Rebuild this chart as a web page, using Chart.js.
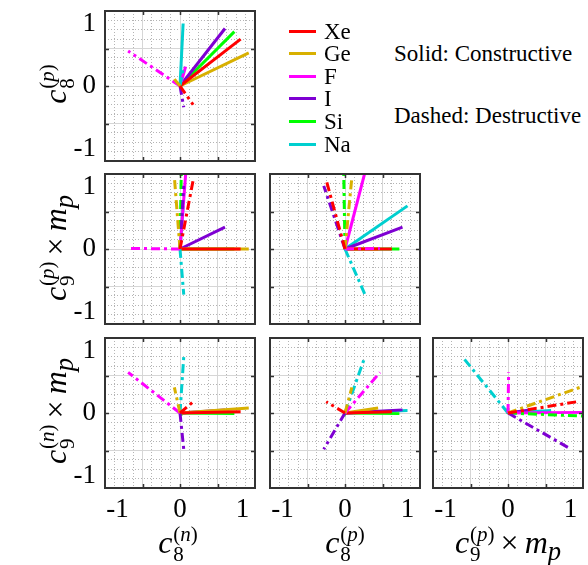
<!DOCTYPE html>
<html>
<head>
<meta charset="utf-8">
<script src="https://cdn.jsdelivr.net/npm/chart.js@4.4.1/dist/chart.umd.min.js"></script>
<style>
  body { margin: 0; background: #fff; }
  #fig { position: relative; width: 588px; height: 565px; overflow: hidden; font-family: 'Liberation Serif', serif; color: #000; }
  #fig canvas { position: absolute; }
  .math { position: absolute; font-size: 32px; line-height: 1; white-space: nowrap; transform: translate(-50%, -50%); }
  .math.rot { transform: translate(-50%, -50%) rotate(-90deg); }
  .ss { display: inline-flex; flex-direction: column; font-size: 21px; line-height: 0.95; vertical-align: 12px; margin-left: 1px; }
  .times { margin: 0 6px; font-style: normal; }
  .key { position: absolute; font-size: 23px; line-height: 1; white-space: nowrap; }
  .swatch { position: absolute; width: 27px; height: 3px; }
</style>
</head>
<body>
<div id="fig"></div>
<script>
// element order also sets drawing order: first listed is drawn on top
const elements = ['Xe', 'Ge', 'F', 'I', 'Si', 'Na'];
const colours = ['#ff0000', '#d8b000', '#ff00ff', '#7e00d2', '#00ff00', '#00cfcf'];

// constructive (solid) directions
const c8nSolid = [0.97, 1.10, 0.09, 0.72, 0.87, 0.05];
const c8pSolid = [0.75, 0.53, 0.31, 0.92, 0.87, 1.00];
const c9pSolid = [0.00, 0.00, 1.19, 0.35, 0.00, 0.69];
const c9nSolid = [0.02, 0.08, 0.01, 0.05, -0.01, 0.04];

// destructive (dashed) directions
const c8nDashed = [0.21, -0.09, -0.83, 0.06, 0.02, 0.06];
const c8pDashed = [-0.30, 0.11, 0.56, -0.34, -0.02, 0.32];
const c9pDashed = [1.10, 1.15, 0.01, 1.01, 1.20, -0.73];
const c9nDashed = [0.18, 0.41, 0.65, -0.58, -0.05, 0.90];

const tickLabels = [-1, 0, 1];
const majorTicks = [-0.6, 0, 0.6];

const solid = { c8n: c8nSolid, c8p: c8pSolid, c9p: c9pSolid, c9n: c9nSolid };
const dashed = { c8n: c8nDashed, c8p: c8pDashed, c9p: c9pDashed, c9n: c9nDashed };

const LIM = 1.2;
const SIZE = 150;
// top/right margins must exceed the padding Chart.js asks for round the tick labels
const M = { left: 50, right: 16, top: 30, bottom: 44 };
const FONT = 'Liberation Serif';

// minor grid every 0.15, skipping where the major lines sit
const minorTicks = [];
for (let k = -7; k <= 7; k++) {
    if (k % 4 !== 0) minorTicks.push(+(k * 0.15).toFixed(2));
}

const panels = [
    { x: 'c8n', y: 'c8p', left: 105, top: 11, showX: false, showY: true },
    { x: 'c8n', y: 'c9p', left: 105, top: 174, showX: false, showY: true },
    { x: 'c8p', y: 'c9p', left: 270, top: 174, showX: false, showY: false },
    { x: 'c8n', y: 'c9n', left: 105, top: 338, showX: true, showY: true },
    { x: 'c8p', y: 'c9n', left: 270, top: 338, showX: true, showY: false },
    { x: 'c9p', y: 'c9n', left: 433, top: 338, showX: true, showY: false }
];

const setTicks = values => scale => {
    scale.ticks = values.map(value => ({ value }));
};

const gridAxis = (position, values, colour, dash) => ({
    type: 'linear',
    position,
    min: -LIM,
    max: LIM,
    afterBuildTicks: setTicks(values),
    afterFit: s => { if (s.isHorizontal()) s.height = 0; else s.width = 0; },
    ticks: { display: false },
    grid: { color: colour, lineWidth: 1, drawTicks: false },
    border: { display: false, dash }
});

const labelAxis = (position, show) => ({
    type: 'linear',
    position,
    min: -LIM,
    max: LIM,
    afterBuildTicks: setTicks(tickLabels),
    afterFit: s => { if (s.isHorizontal()) s.height = M.bottom; else s.width = M.left; },
    grid: { display: false, drawTicks: false },
    border: { display: false },
    ticks: {
        display: show,
        color: '#000',
        font: { family: FONT, size: 27 },
        padding: position === 'left' ? 9 : 6,
        maxRotation: 0,
        autoSkip: false
    }
});

// box round the axes with short inward tick marks
const frame = {
    id: 'frame',
    afterDraw(chart) {
        const { ctx, chartArea: a, scales } = chart;
        ctx.save();
        ctx.strokeStyle = '#333';
        ctx.lineWidth = 1.5;
        ctx.beginPath();
        majorTicks.forEach(v => {
            const px = Math.round(scales.x.getPixelForValue(v)) + 0.5;
            const py = Math.round(scales.y.getPixelForValue(v)) + 0.5;
            ctx.moveTo(px, a.top); ctx.lineTo(px, a.top + 4);
            ctx.moveTo(px, a.bottom); ctx.lineTo(px, a.bottom - 4);
            ctx.moveTo(a.left, py); ctx.lineTo(a.left + 4, py);
            ctx.moveTo(a.right, py); ctx.lineTo(a.right - 4, py);
        });
        ctx.stroke();
        ctx.lineWidth = 2;
        ctx.strokeRect(a.left, a.top, a.right - a.left, a.bottom - a.top);
        ctx.restore();
    }
};

const makeDatasets = p => {
    const sets = [];
    elements.forEach((name, i) => {
        sets.push({
            label: name + ' destructive',
            data: [{ x: 0, y: 0 }, { x: dashed[p.x][i], y: dashed[p.y][i] }],
            borderColor: colours[i],
            borderWidth: 3,
            borderDash: [9, 4, 3, 4],
            showLine: true,
            pointRadius: 0
        });
    });
    elements.forEach((name, i) => {
        sets.push({
            label: name + ' constructive',
            data: [{ x: 0, y: 0 }, { x: solid[p.x][i], y: solid[p.y][i] }],
            borderColor: colours[i],
            borderWidth: 3,
            showLine: true,
            pointRadius: 0
        });
    });
    return sets;
};

const fig = document.getElementById('fig');

panels.forEach(p => {
    const canvas = document.createElement('canvas');
    canvas.width = SIZE + M.left + M.right;
    canvas.height = SIZE + M.top + M.bottom;
    canvas.style.left = (p.left - M.left) + 'px';
    canvas.style.top = (p.top - M.top) + 'px';
    fig.appendChild(canvas);

    new Chart(canvas, {
        type: 'scatter',
        data: { datasets: makeDatasets(p) },
        options: {
            responsive: false,
            animation: false,
            devicePixelRatio: 1,
            events: [],
            layout: { padding: { left: 0, right: M.right, top: M.top, bottom: 0 } },
            plugins: { legend: { display: false }, tooltip: { enabled: false } },
            scales: {
                x: labelAxis('bottom', p.showX),
                y: labelAxis('left', p.showY),
                xMinor: gridAxis('bottom', minorTicks, '#b4b4b4', [1, 2]),
                yMinor: gridAxis('left', minorTicks, '#b4b4b4', [1, 2]),
                xMajor: gridAxis('bottom', majorTicks, '#d6d6d6', []),
                yMajor: gridAxis('left', majorTicks, '#d6d6d6', [])
            }
        },
        plugins: [frame]
    });
});

// axis titles
const scripts = (sup, sub) => `<span class="ss"><span>${sup}</span><span>${sub}</span></span>`;
const c8n = '<i>c</i>' + scripts('(<i>n</i>)', '8');
const c8p = '<i>c</i>' + scripts('(<i>p</i>)', '8');
const c9pm = '<i>c</i>' + scripts('(<i>p</i>)', '9') + '<span class="times">×</span><i>m</i><sub><i>p</i></sub>';
const c9nm = '<i>c</i>' + scripts('(<i>n</i>)', '9') + '<span class="times">×</span><i>m</i><sub><i>p</i></sub>';

const titles = [
    { html: c8p, x: 58, y: 84, rot: true },
    { html: c9pm, x: 58, y: 248, rot: true },
    { html: c9nm, x: 58, y: 411, rot: true },
    { html: c8n, x: 178, y: 545, rot: false },
    { html: c8p, x: 345, y: 545, rot: false },
    { html: c9pm, x: 508, y: 545, rot: false }
];

titles.forEach(t => {
    const d = document.createElement('div');
    d.className = 'math' + (t.rot ? ' rot' : '');
    d.innerHTML = t.html;
    d.style.left = t.x + 'px';
    d.style.top = t.y + 'px';
    fig.appendChild(d);
});

// legend and line-style notes
const keyRows = [31, 53, 76, 98, 121, 144];
elements.forEach((name, i) => {
    const s = document.createElement('div');
    s.className = 'swatch';
    s.style.background = colours[i];
    s.style.left = '289px';
    s.style.top = (keyRows[i] - 1.5) + 'px';
    fig.appendChild(s);

    const t = document.createElement('div');
    t.className = 'key';
    t.textContent = name;
    t.style.left = '324px';
    t.style.top = (keyRows[i] - 11) + 'px';
    fig.appendChild(t);
});

[['Solid: Constructive', 53], ['Dashed: Destructive', 115]].forEach(([text, y]) => {
    const t = document.createElement('div');
    t.className = 'key';
    t.textContent = text;
    t.style.left = '394px';
    t.style.top = (y - 11) + 'px';
    fig.appendChild(t);
});
</script>
</body>
</html>
